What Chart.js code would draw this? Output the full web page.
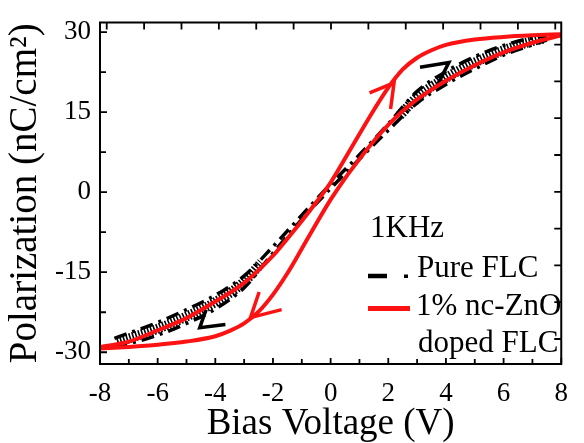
<!DOCTYPE html>
<html>
<head>
<meta charset="utf-8">
<script src="https://cdn.jsdelivr.net/npm/chart.js@4.4.1/dist/chart.umd.min.js"></script>
<style>
  html, body { margin: 0; padding: 0; background: #fff; }
  #probe { position: absolute; left: -999px; font-family: "Liberation Serif", "Times New Roman", Times, serif; }
</style>
</head>
<body>
<span id="probe">Polarization 1KHz</span>
<canvas id="hyst" width="584" height="443"></canvas>
<script>
// axis ticks
var xTicks = [-8, -6, -4, -2, 0, 2, 4, 6, 8];
var xMinor = [-7, -5, -3, -1, 1, 3, 5, 7];
var yTicks = [-30, -15, 0, 15, 30];
var yMinor = [-22.5, -7.5, 7.5, 22.5];
var topTicks = [0, 1, 2, 3, 4, 5, 6, 7, 8, 9, 10, 11, 12];
var rightTicks = [0, 1, 2, 3, 4, 5, 6, 7, 8];

// 1% nc-ZnO doped FLC, two branches of the loop
var dopedUpX = [-8, -7, -6, -5, -4, -3, -2, -1.5, -1, -0.5, 0, 0.5, 1, 1.5, 2, 2.5, 3, 3.5, 4, 5, 6, 7, 8];
var dopedUpY = [-29.0, -28.0, -25.9, -23.6, -20.5, -17.0, -11.9, -8.7, -5.4, -1.9, 1.8, 6.3, 10.9, 15.4, 19.6, 23.0, 25.2, 26.6, 27.6, 28.6, 29.1, 29.4, 29.6];
var dopedDownX = [-8, -7, -6, -5, -4, -3.5, -3, -2.5, -2, -1.5, -1, -0.5, 0, 0.5, 1, 1.5, 2, 2.5, 3, 4, 5, 6, 7, 8];
var dopedDownY = [-29.3, -29.0, -28.6, -28.0, -27.0, -26.0, -24.6, -22.4, -19.2, -15.2, -10.6, -5.9, -1.4, 2.6, 6.2, 9.6, 12.6, 15.2, 17.4, 20.9, 23.8, 26.2, 28.0, 29.4];

// pure FLC, two branches of the (narrow) loop
var pureX = [-7.5, -7, -6, -5, -4, -3, -2, -1, 0, 1, 2, 3, 4, 5, 6, 7, 7.5];
var pureUpY = [-27.4, -26.4, -24.4, -22.0, -19.3, -15.7, -10.2, -4.3, 1.5, 7.0, 12.8, 18.9, 22.6, 25.4, 27.5, 28.9, 29.2];
var pureDownY = [-29.0, -28.4, -26.8, -24.6, -21.9, -17.9, -11.4, -5.1, 0.7, 6.2, 11.6, 16.7, 20.2, 23.1, 25.7, 27.6, 28.5];

// hatched band of the pure FLC curve in the two wings
var hatchLeftX = [-7.4, -7, -6, -5, -4, -3, -2.4];
var hatchLeftY = [-28.1, -27.4, -25.6, -23.3, -20.6, -16.8, -13.2];
var hatchRightX = [2.4, 3, 4, 5, 6, 7, 7.4];
var hatchRightY = [14.4, 17.8, 21.4, 24.3, 26.6, 28.3, 28.8];

// direction arrows (arm, tip, arm)
var redArrowUpX = [1.35, 2.2, 2.08];
var redArrowUpY = [18.6, 20.5, 15.6];
var redArrowDownX = [-2.48, -2.78, -1.7];
var redArrowDownY = [-18.7, -23.5, -22.0];
var blackArrowUpX = [3.1, 4.1, 3.65];
var blackArrowUpY = [23.4, 24.3, 19.5];
var blackArrowDownX = [-3.65, -4.54, -4.32];
var blackArrowDownY = [-24.8, -25.4, -22.0];

var SERIF = '"Liberation Serif", "Times New Roman", Times, serif';
var RED = 'rgb(252,18,18)';

function pts(xs, ys) {
  var out = [];
  for (var i = 0; i < xs.length; i++) out.push({x: xs[i], y: ys[i]});
  return out;
}

var frameTicks = {
  id: 'frameTicks',
  afterDraw: function(chart) {
    var ctx = chart.ctx, a = chart.chartArea;
    var sx = chart.scales.x, sy = chart.scales.y;
    var sx2 = chart.scales.x2, sy2 = chart.scales.y2;
    ctx.save();
    ctx.strokeStyle = '#000';
    ctx.lineWidth = 2;
    ctx.strokeRect(a.left, a.top, a.right - a.left, a.bottom - a.top);
    ctx.lineWidth = 1.8;
    ctx.beginPath();
    xTicks.forEach(function(v) { var p = sx.getPixelForValue(v); ctx.moveTo(p, a.bottom); ctx.lineTo(p, a.bottom - 6); });
    xMinor.forEach(function(v) { var p = sx.getPixelForValue(v); ctx.moveTo(p, a.bottom); ctx.lineTo(p, a.bottom - 5); });
    yTicks.forEach(function(v) { var p = sy.getPixelForValue(v); ctx.moveTo(a.left, p); ctx.lineTo(a.left + 7, p); });
    yMinor.forEach(function(v) { var p = sy.getPixelForValue(v); ctx.moveTo(a.left, p); ctx.lineTo(a.left + 6, p); });
    topTicks.forEach(function(v) { var p = sx2.getPixelForValue(v); ctx.moveTo(p, a.top); ctx.lineTo(p, a.top + 7); });
    rightTicks.forEach(function(v) { var p = sy2.getPixelForValue(v); ctx.moveTo(a.right, p); ctx.lineTo(a.right - 7, p); });
    ctx.stroke();

    // legend
    ctx.fillStyle = '#000';
    ctx.font = '31px ' + SERIF;
    ctx.textBaseline = 'alphabetic';
    ctx.fillText('1KHz', 370, 237);
    ctx.fillText('Pure FLC', 417, 277);
    ctx.fillText('1% nc-ZnO', 416, 315);
    ctx.fillText('doped FLC', 418, 352);
    ctx.lineWidth = 4.5;
    ctx.beginPath();
    ctx.moveTo(368, 276); ctx.lineTo(387, 276);
    ctx.stroke();
    ctx.fillRect(404, 274.5, 4, 3.5);
    ctx.strokeStyle = RED;
    ctx.lineWidth = 5;
    ctx.beginPath();
    ctx.moveTo(368, 308.5); ctx.lineTo(410, 308.5);
    ctx.stroke();
    ctx.restore();
  }
};

function line(data, color, width, dash, order, smooth) {
  return {
    data: data,
    showLine: true,
    borderColor: color,
    backgroundColor: color,
    borderWidth: width,
    borderDash: dash || [],
    borderCapStyle: 'butt',
    pointRadius: 0,
    fill: false,
    order: order,
    cubicInterpolationMode: smooth ? 'monotone' : 'default',
    tension: 0
  };
}

function makeChart() {
  var ctx = document.getElementById('hyst').getContext('2d');
  window.hystChart = new Chart(ctx, {
    type: 'scatter',
    data: {
      datasets: [
        line(pts(dopedUpX, dopedUpY), RED, 4, null, 0, true),
        line(pts(dopedDownX, dopedDownY), RED, 4, null, 0, true),
        line(pts(redArrowUpX, redArrowUpY), RED, 3.5, null, 0, false),
        line(pts(redArrowDownX, redArrowDownY), RED, 3.5, null, 0, false),
        line(pts(pureX, pureUpY), '#000', 3.5, [13, 6, 3, 6], 1, true),
        line(pts(pureX, pureDownY), '#000', 3.5, [13, 6, 3, 6], 1, true),
        line(pts(blackArrowUpX, blackArrowUpY), '#000', 3.5, null, 1, false),
        line(pts(blackArrowDownX, blackArrowDownY), '#000', 3.5, null, 1, false),
        line(pts(hatchLeftX, hatchLeftY), '#000', 10, [1.6, 1.6], 2, true),
        line(pts(hatchRightX, hatchRightY), '#000', 10, [1.6, 1.6], 2, true)
      ]
    },
    options: {
      responsive: false,
      animation: false,
      devicePixelRatio: 1,
      layout: { padding: { top: 14, right: 7, left: 0, bottom: 0 } },
      plugins: { legend: { display: false }, tooltip: { enabled: false } },
      scales: {
        x: {
          type: 'linear', min: -8, max: 8,
          grid: { display: false, drawTicks: false },
          border: { display: false },
          afterBuildTicks: function(s) { s.ticks = xTicks.map(function(v) { return {value: v}; }); },
          afterFit: function(s) { s.height = 79; },
          ticks: {
            color: '#000', padding: 16, maxRotation: 0, autoSkip: false,
            font: { family: SERIF, size: 27, lineHeight: 1 },
            callback: function(v) { return String(v); }
          },
          title: {
            display: true, text: 'Bias Voltage (V)', color: '#000',
            font: { family: SERIF, size: 37, lineHeight: 1 },
            padding: { top: 0, bottom: 0 }
          }
        },
        y: {
          type: 'linear', min: -32.2, max: 31.8,
          grid: { display: false, drawTicks: false },
          border: { display: false },
          afterBuildTicks: function(s) { s.ticks = yTicks.map(function(v) { return {value: v}; }); },
          afterFit: function(s) { s.width = 100; },
          ticks: {
            color: '#000', padding: 9,
            font: { family: SERIF, size: 27, lineHeight: 1 },
            callback: function(v) { return String(v); }
          },
          title: {
            display: true, text: 'Polarization (nC/cm\u00B2)', color: '#000',
            font: { family: SERIF, size: 39 },
            padding: { top: 2, bottom: 0 }
          }
        },
        x2: { type: 'linear', position: 'top', min: -0.18, max: 12.16, display: false },
        y2: { type: 'linear', position: 'right', min: -0.68, max: 8.6, display: false }
      }
    },
    plugins: [frameTicks]
  });
}

if (document.fonts && document.fonts.load) {
  Promise.all([
    document.fonts.load('27px "Liberation Serif"'),
    document.fonts.load('31px "Liberation Serif"')
  ]).then(makeChart, makeChart);
} else {
  makeChart();
}
</script>
</body>
</html>
